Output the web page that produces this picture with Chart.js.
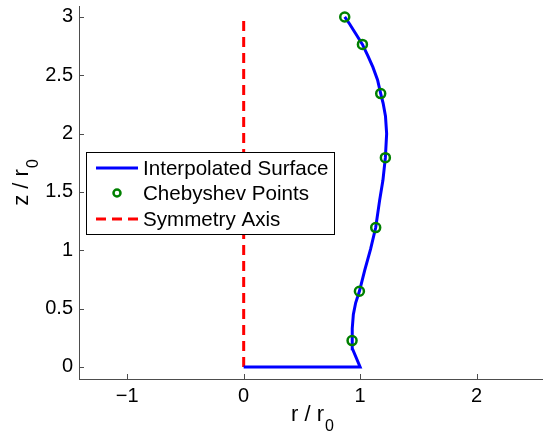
<!DOCTYPE html>
<html>
<head>
<meta charset="utf-8">
<script src="https://cdn.jsdelivr.net/npm/chart.js@4"></script>
<style>
  html, body { margin: 0; padding: 0; background: #fff; }
  #wrap { width: 543px; height: 434px; }
</style>
</head>
<body>
<div id="wrap"><canvas id="c" width="543" height="434"></canvas></div>
<script>
// interpolated surface (r / r0, z / r0)
const surfR = [0, 1.0, 0.934, 0.931, 0.934, 0.942, 0.962, 0.994, 1.04, 1.09, 1.134, 1.168, 1.196, 1.217, 1.228, 1.218, 1.198, 1.177, 1.15, 1.11, 1.065, 1.02, 0.96, 0.91, 0.868];
const surfZ = [0, 0, 0.157, 0.226, 0.33, 0.45, 0.55, 0.649, 0.83, 1.01, 1.195, 1.43, 1.6, 1.794, 2.0, 2.15, 2.26, 2.343, 2.46, 2.57, 2.67, 2.765, 2.86, 2.94, 3.0];

// chebyshev points
const chebR = [0.868, 1.02, 1.177, 1.217, 1.134, 0.994, 0.931];
const chebZ = [3.0, 2.765, 2.343, 1.794, 1.195, 0.649, 0.226];

// symmetry axis
const symR = [0, 0];
const symZ = [0, 3];

const xTicks = [-1, 0, 1, 2];
const yTicks = [0, 0.5, 1, 1.5, 2, 2.5, 3];

const FONT = "'Liberation Sans', Arial, Helvetica, sans-serif";
const AXIS_COL = "#4d4d4d";

function pts(xs, ys){ return xs.map((x,i)=>({x:x, y:ys[i]})); }
function fmt(v){ return String(v).replace("-", "\u2212"); }

function noPad(s){ s.paddingTop = 0; s.paddingBottom = 0; s.paddingLeft = 0; s.paddingRight = 0; }

// draws "main" + lowered "0" centred on (0,0) of current transform
function subLabel(ctx, main, dy){
  ctx.font = "22px " + FONT;
  const w1 = ctx.measureText(main).width;
  ctx.font = "16px " + FONT;
  const w2 = ctx.measureText("0").width;
  const x0 = -(w1 + w2) / 2;
  ctx.font = "22px " + FONT;
  ctx.fillText(main, x0, 0);
  ctx.font = "16px " + FONT;
  ctx.fillText("0", x0 + w1 + 1, dy);
}

// inward tick marks, axis titles with subscripts, boxed legend
const extras = {
  id: "extras",
  afterDraw(chart) {
    const ctx = chart.ctx, a = chart.chartArea;
    const xs = chart.scales.x, ys = chart.scales.y;
    ctx.save();
    ctx.strokeStyle = AXIS_COL;
    ctx.lineWidth = 1;
    ctx.beginPath();
    xTicks.forEach(v => {
      const px = Math.round(xs.getPixelForValue(v)) + 0.5;
      ctx.moveTo(px, a.bottom); ctx.lineTo(px, a.bottom - 5);
    });
    yTicks.forEach(v => {
      const py = Math.round(ys.getPixelForValue(v)) + 0.5;
      ctx.moveTo(a.left, py); ctx.lineTo(a.left + 5, py);
    });
    ctx.stroke();

    // axis titles
    ctx.fillStyle = "#000";
    ctx.textBaseline = "alphabetic";
    ctx.textAlign = "left";
    ctx.save();
    ctx.translate((a.left + a.right) / 2 + 1, 421);
    subLabel(ctx, "r / r", 10);
    ctx.restore();

    ctx.save();
    ctx.translate(28, 183);
    ctx.rotate(-Math.PI / 2);
    subLabel(ctx, "z / r", 10);
    ctx.restore();

    // legend
    const bx = 86.5, by = 152.5, bw = 248, bh = 82;
    ctx.fillStyle = "#fff";
    ctx.fillRect(bx, by, bw, bh);
    ctx.strokeStyle = "#000";
    ctx.lineWidth = 1;
    ctx.strokeRect(bx, by, bw, bh);
    const rows = [168, 193, 219];
    const ds = chart.data.datasets;
    ctx.strokeStyle = ds[1].borderColor; ctx.lineWidth = 3; ctx.setLineDash([]);
    ctx.beginPath(); ctx.moveTo(96, rows[0]); ctx.lineTo(138, rows[0]); ctx.stroke();
    ctx.strokeStyle = ds[0].borderColor; ctx.lineWidth = 2.5;
    ctx.beginPath(); ctx.arc(117, rows[1], 3.5, 0, Math.PI * 2); ctx.stroke();
    ctx.strokeStyle = ds[2].borderColor; ctx.lineWidth = 3; ctx.setLineDash([10, 6]);
    ctx.beginPath(); ctx.moveTo(96, rows[2]); ctx.lineTo(138, rows[2]); ctx.stroke();
    ctx.setLineDash([]);
    ctx.fillStyle = "#000";
    ctx.font = "20.6px " + FONT;
    ctx.textBaseline = "middle";
    ctx.textAlign = "left";
    ds.slice().sort((p, q) => p.legendRank - q.legendRank).forEach((d, i) => {
      ctx.fillText(d.label, 143, rows[i] + 1);
    });
    ctx.restore();
  }
};

new Chart(document.getElementById("c"), {
  type: "scatter",
  data: {
    datasets: [
      { label: "Chebyshev Points", legendRank: 1, data: pts(chebR, chebZ), showLine: false,
        borderColor: "#008000", backgroundColor: "rgba(0,0,0,0)", pointRadius: 4.5,
        pointBorderWidth: 2.5, pointHoverRadius: 4.5, order: 0 },
      { label: "Interpolated Surface", legendRank: 0, data: pts(surfR, surfZ), showLine: true,
        borderColor: "#0000ff", borderWidth: 3, pointRadius: 0, tension: 0, order: 1 },
      { label: "Symmetry Axis", legendRank: 2, data: pts(symR, symZ), showLine: true,
        borderColor: "#ff0000", borderWidth: 3, borderDash: [10, 6], pointRadius: 0, order: 2 }
    ]
  },
  options: {
    responsive: false,
    animation: false,
    devicePixelRatio: 1,
    layout: { autoPadding: false, padding: { top: 6, right: 0, left: 0, bottom: 0 } },
    plugins: { legend: { display: false }, tooltip: { enabled: false } },
    scales: {
      x: {
        type: "linear", min: -1.4145, max: 2.571,
        afterBuildTicks: s => { s.ticks = xTicks.map(v => ({ value: v })); },
        afterFit: s => { s.height = 55; noPad(s); },
        grid: { display: false, drawTicks: false },
        border: { display: true, color: AXIS_COL, width: 1 },
        ticks: { color: "#000", font: { family: FONT, size: 20 }, padding: 5,
                 maxRotation: 0, callback: v => fmt(v) }
      },
      y: {
        type: "linear", min: -0.103, max: 3.094,
        afterBuildTicks: s => { s.ticks = yTicks.map(v => ({ value: v })); },
        afterFit: s => { s.width = 79; noPad(s); },
        grid: { display: false, drawTicks: false },
        border: { display: true, color: AXIS_COL, width: 1 },
        ticks: { color: "#000", font: { family: FONT, size: 20 }, padding: 6,
                 callback: v => fmt(v) }
      }
    }
  },
  plugins: [extras]
});
</script>
</body>
</html>
